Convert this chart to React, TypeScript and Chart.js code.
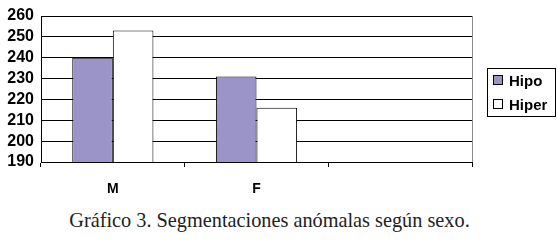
import React, { useEffect, useRef } from "react";
import { Chart, registerables } from "chart.js";

Chart.register(...registerables);

const categories = ["M", "F", ""];
const hipoValues = [240, 231, null];
const hiperValues = [253, 216, null];
const seriesNames = ["Hipo", "Hiper"];
const yMin = 190;
const yMax = 260;
const yStep = 10;
const caption = "Gráfico 3. Segmentaciones anómalas según sexo.";

const HIPO_COLOR = "#9b94c8";

const rightBorder = {
  id: "rightBorder",
  afterDraw(chart: any) {
    const { ctx, chartArea } = chart;
    ctx.save();
    ctx.strokeStyle = "#8a8a8a";
    ctx.lineWidth = 1;
    ctx.beginPath();
    const x = Math.round(chartArea.right) + 0.5;
    ctx.moveTo(x, chartArea.top);
    ctx.lineTo(x, chartArea.bottom);
    ctx.stroke();
    ctx.restore();
  },
};

export default function App() {
  const ref = useRef<HTMLCanvasElement>(null);

  useEffect(() => {
    if (!ref.current) return;
    const chart = new Chart(ref.current, {
      type: "bar",
      data: {
        labels: categories,
        datasets: [
          {
            label: seriesNames[0],
            data: hipoValues,
            backgroundColor: HIPO_COLOR,
            borderColor: "#000",
            borderWidth: 1,
          },
          {
            label: seriesNames[1],
            data: hiperValues,
            backgroundColor: "#fff",
            borderColor: "#000",
            borderWidth: 1,
          },
        ],
      },
      plugins: [rightBorder],
      options: {
        responsive: false,
        animation: false,
        datasets: { bar: { categoryPercentage: 0.565, barPercentage: 1 } },
        layout: { padding: { top: 16, right: 85, left: 0, bottom: 0 } },
        plugins: { legend: { display: false }, tooltip: { enabled: false } },
        scales: {
          y: {
            min: yMin,
            max: yMax,
            ticks: {
              stepSize: yStep,
              autoSkip: false,
              color: "#000",
              padding: 7,
              font: { family: "Liberation Sans, Arial", size: 16, weight: "bold", lineHeight: 1 },
            },
            grid: { color: "#000", drawTicks: false, lineWidth: 1 },
            border: { color: "#000" },
            afterFit: (s: any) => {
              s.width = 41;
            },
          },
          x: {
            ticks: {
              color: "#000",
              padding: 14,
              font: { family: "Liberation Sans, Arial", size: 14, weight: "bold" },
            },
            grid: { drawOnChartArea: false, drawTicks: true, tickLength: 5, color: "#000" },
            border: { color: "#000" },
            afterFit: (s: any) => {
              s.height = 38;
            },
          },
        },
      },
    });
    return () => chart.destroy();
  }, []);

  return (
    <div style={{ position: "absolute", left: 0, top: 0, width: 557, height: 242, background: "#fff" }}>
      <canvas ref={ref} width={557} height={200} style={{ position: "absolute", left: 0, top: 0 }} />
      <div
        style={{
          position: "absolute",
          left: 487,
          top: 68,
          width: 67,
          height: 47,
          border: "1px solid #000",
          fontFamily: "Liberation Sans, Arial",
          fontWeight: "bold",
          fontSize: 15,
          color: "#000",
        }}
      >
        {seriesNames.map((n, i) => (
          <div key={n} style={{ position: "absolute", left: 5, top: i === 0 ? 2 : 26, height: 18, display: "flex", alignItems: "center" }}>
            <span
              style={{
                display: "inline-block",
                width: 8,
                height: 8,
                border: "1px solid #000",
                background: i === 0 ? HIPO_COLOR : "#fff",
                marginRight: 6,
              }}
            />
            <span>{n}</span>
          </div>
        ))}
      </div>
      <div
        style={{
          position: "absolute",
          left: 0,
          top: 209,
          width: 539,
          textAlign: "center",
          fontFamily: "Liberation Serif, Times New Roman, serif",
          fontSize: 20.3,
          color: "#222",
          whiteSpace: "nowrap",
        }}
      >
        {caption}
      </div>
    </div>
  );
}
